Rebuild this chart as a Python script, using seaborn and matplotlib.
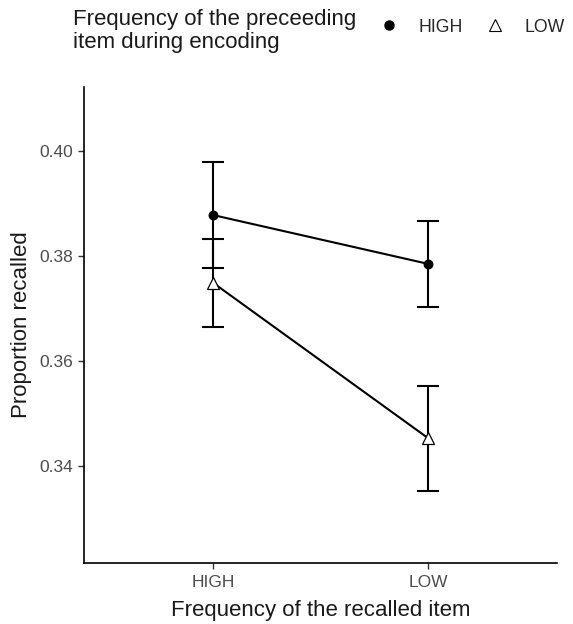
import numpy as np
import pandas as pd
import matplotlib
matplotlib.use("Agg")
import matplotlib.pyplot as plt
import seaborn as sns
from matplotlib.lines import Line2D

# Frequency of the recalled item (x) and of the preceding item (hue)
recalled = ["HIGH", "LOW"]
preceding = ["HIGH", "LOW"]
mean_high_prev = [0.3878, 0.3785]
mean_low_prev = [0.3749, 0.3453]
err_high_prev = [0.0101, 0.0082]
err_low_prev = [0.0084, 0.0100]

df = pd.DataFrame({
    "recalled": recalled * 2,
    "preceding": [preceding[0]] * 2 + [preceding[1]] * 2,
    "prop": mean_high_prev + mean_low_prev,
    "err": err_high_prev + err_low_prev,
})

sns.set_theme(style="ticks")
plt.rcParams["font.family"] = ["Liberation Sans", "DejaVu Sans"]

fig = plt.figure(figsize=(5.73, 6.24), dpi=100)
ax = fig.add_axes([0.1466, 0.0978, 0.8254, 0.7628])

sns.pointplot(data=df, x="recalled", y="prop", hue="preceding", order=recalled,
              hue_order=preceding, palette={"HIGH": "black", "LOW": "black"},
              markers=["o", "^"], linestyles=["-", "-"], errorbar=None,
              dodge=False, legend=False, ax=ax, linewidth=1.5, markersize=6)

# white-filled triangles for the LOW series
for line in ax.lines:
    if line.get_marker() == "^":
        line.set_markerfacecolor("white")
        line.set_markeredgecolor("black")
        line.set_markersize(8.5)
        line.set_markeredgewidth(0.9)
    line.set_zorder(4)

xpos = np.arange(len(recalled))
for sub in [df[df["preceding"] == p] for p in preceding]:
    ax.errorbar(xpos, sub["prop"], yerr=sub["err"], fmt="none", ecolor="black",
                elinewidth=1.5, capsize=7.6, capthick=1.5, zorder=3)

ax.set_xlim(-0.6, 1.6)
ax.set_ylim(0.3215, 0.4122)
ax.set_yticks([0.34, 0.36, 0.38, 0.40])
ax.set_yticklabels(["0.34", "0.36", "0.38", "0.40"])
sns.despine(ax=ax)
for s in ["left", "bottom"]:
    ax.spines[s].set_color("black")
    ax.spines[s].set_linewidth(1.2)
ax.tick_params(axis="both", colors="#333333", labelcolor="#4d4d4d",
               labelsize=12.5, length=4, width=1)
ax.tick_params(axis="x", pad=5)
ax.set_xlabel("Frequency of the recalled item", fontsize=16, color="#1a1a1a", labelpad=7)
ax.set_ylabel("Proportion recalled", fontsize=16, color="#1a1a1a", labelpad=6)

fig.text(73 / 573, 1 - 9 / 624, "Frequency of the preceeding\nitem during encoding",
         fontsize=16, va="top", ha="left", linespacing=1.12, color="#1a1a1a")

handles = [
    Line2D([], [], color="black", marker="o", linestyle="none", markersize=6.5),
    Line2D([], [], color="black", marker="^", linestyle="none", markersize=8.5,
           markerfacecolor="white", markeredgewidth=0.8),
]
fig.legend(handles, preceding, loc="center left", bbox_to_anchor=(380 / 573, 1 - 27 / 624),
           ncol=2, frameon=False, fontsize=12.7, handlelength=1.0, handletextpad=1.2,
           columnspacing=1.3, borderaxespad=0, borderpad=0)

fig.savefig("out.png", dpi=100)
